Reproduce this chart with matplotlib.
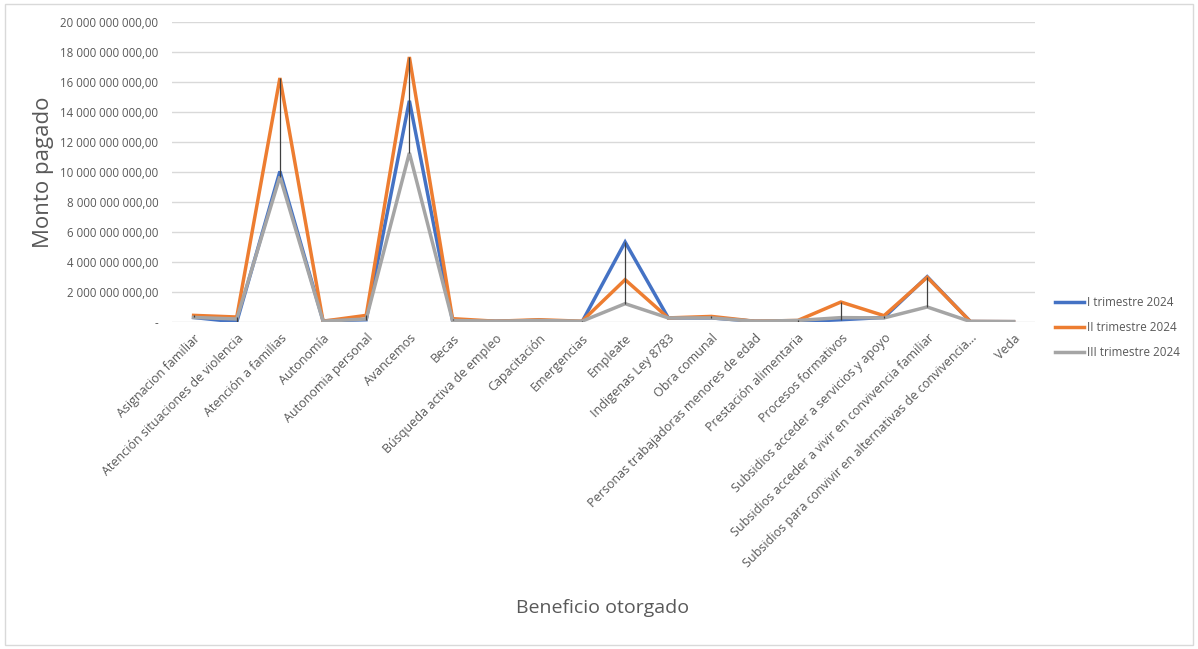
import numpy as np
import matplotlib.pyplot as plt
from matplotlib.patches import Rectangle
from matplotlib.ticker import FuncFormatter

plt.rcParams['font.family'] = ['Open Sans', 'DejaVu Sans']

# categories (beneficio otorgado)
beneficios = [
    "Asignacion familiar",
    "Atención situaciones de violencia",
    "Atención a familias",
    "Autonomía",
    "Autonomia personal",
    "Avancemos",
    "Becas",
    "Búsqueda activa de empleo",
    "Capacitación",
    "Emergencias",
    "Empleate",
    "Indigenas Ley 8783",
    "Obra comunal",
    "Personas trabajadoras menores de edad",
    "Prestación alimentaria",
    "Procesos formativos",
    "Subsidios acceder a servicios y apoyo",
    "Subsidios acceder a vivir en convivencia familiar",
    "Subsidios para convivir en alternativas de convivencia...",
    "Veda",
]

# monto pagado per quarter (colones)
trim_1 = [0.30e9, 0.00e9, 10.04e9, 0.08e9, 0.15e9, 14.75e9, 0.10e9, 0.05e9, 0.10e9, 0.00e9,
          5.33e9, 0.27e9, 0.27e9, 0.05e9, 0.02e9, 0.15e9, 0.30e9, 3.02e9, 0.03e9, 0.02e9]
trim_2 = [0.44e9, 0.33e9, 16.27e9, 0.05e9, 0.44e9, 17.67e9, 0.22e9, 0.05e9, 0.15e9, 0.05e9,
          2.82e9, 0.27e9, 0.37e9, 0.05e9, 0.10e9, 1.33e9, 0.42e9, 2.98e9, 0.03e9, 0.02e9]
trim_3 = [0.30e9, 0.20e9, 9.70e9, 0.05e9, 0.20e9, 11.27e9, 0.10e9, 0.05e9, 0.10e9, 0.05e9,
          1.22e9, 0.27e9, 0.27e9, 0.05e9, 0.10e9, 0.29e9, 0.27e9, 1.00e9, 0.03e9, 0.02e9]

series = [("I trimestre 2024", trim_1, "#4472C4"),
          ("II trimestre 2024", trim_2, "#ED7D31"),
          ("III trimestre 2024", trim_3, "#A5A5A5")]

fig = plt.figure(figsize=(11.98, 6.49), dpi=100)
ax = fig.add_axes([0.1436, 0.5039, 0.7204, 0.4621])

x = np.arange(len(beneficios))
for name, vals, col in series:
    ax.plot(x, vals, color=col, lw=2.5, label=name, solid_joinstyle='miter')

# high-low lines
allv = np.array([trim_1, trim_2, trim_3])
ax.vlines(x, allv.min(axis=0), allv.max(axis=0), color="#404040", lw=0.9, zorder=5)

ax.set_xlim(-0.5, len(beneficios) - 0.5)
ax.set_ylim(0, 20e9)
ax.set_yticks(np.arange(0, 20e9 + 1, 2e9))


def fmt(v, pos):
    if v == 0:
        return "-"
    return f"{v:,.2f}".replace(",", " ").replace(".", ",")


ax.yaxis.set_major_formatter(FuncFormatter(fmt))
ax.set_xticks(x)
ax.set_xticklabels(beneficios, rotation=45, ha="right", rotation_mode="anchor",
                   fontsize=9, color="#595959")
ax.tick_params(axis="y", labelsize=8.3, labelcolor="#595959", length=0, pad=10)
ax.tick_params(axis="x", length=0, pad=7)
ax.grid(axis="y", color="#D9D9D9", lw=1)
ax.set_axisbelow(True)
for s in ax.spines.values():
    s.set_visible(False)

ax.set_ylabel("Monto pagado", fontsize=16, color="#595959", labelpad=4)
fig.text(0.503, 0.055, "Beneficio otorgado", fontsize=14, color="#595959", ha="center")

leg = ax.legend(loc="center left", bbox_to_anchor=(0.872, 0.495), bbox_transform=fig.transFigure,
                frameon=False, fontsize=8.4, handlelength=2.5, handletextpad=0.25,
                labelspacing=1.05, labelcolor="#595959")

fig.patches.append(Rectangle((0.004, 0.006), 0.992, 0.988, transform=fig.transFigure,
                             fill=False, edgecolor="#D9D9D9", lw=1))

fig.savefig("out.png", dpi=100)
